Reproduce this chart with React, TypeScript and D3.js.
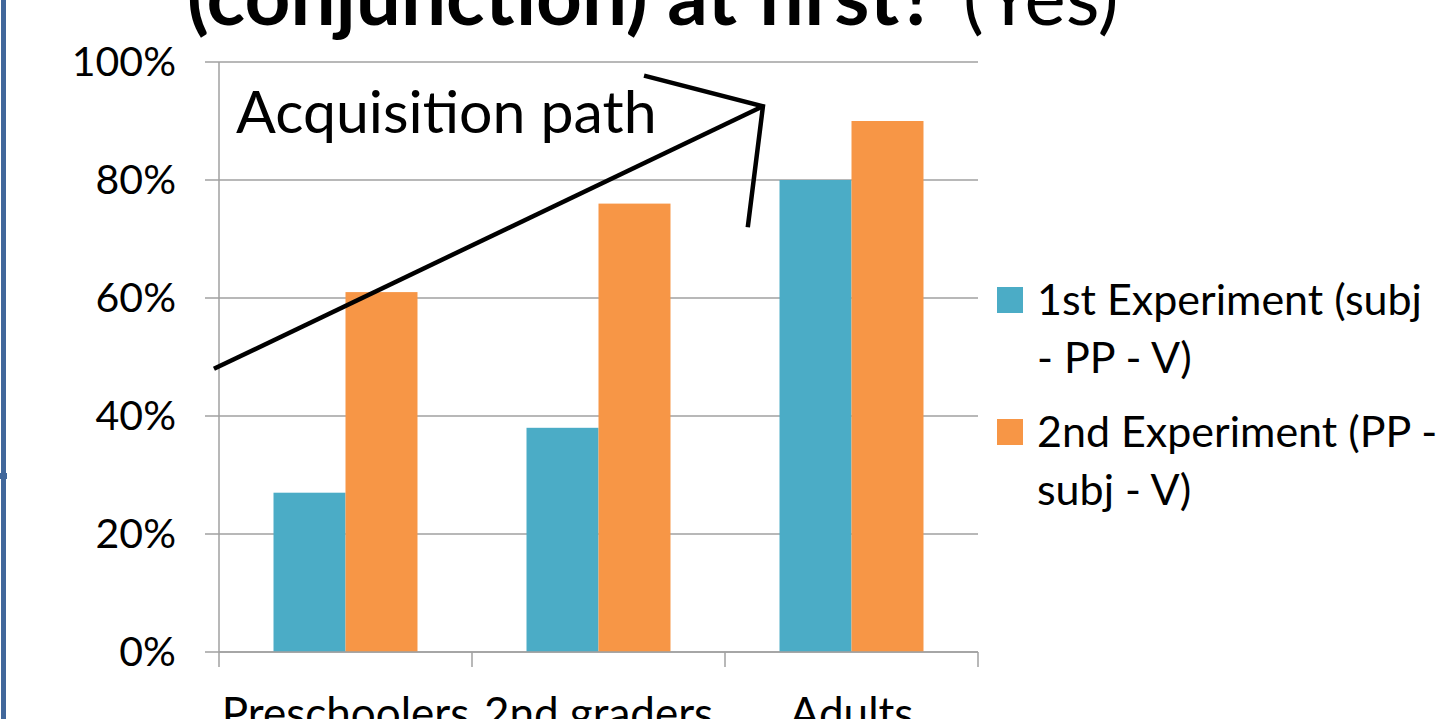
import React, { useEffect } from "react";
import * as d3 from "d3";

const categories = ["Preschoolers", "2nd graders", "Adults"];
const seriesNames = ["1st Experiment (subj - PP - V)", "2nd Experiment (PP - subj - V)"];
const firstExperiment = [0.27, 0.38, 0.8];
const secondExperiment = [0.61, 0.76, 0.9];
const yTicks = [0, 0.2, 0.4, 0.6, 0.8, 1];
const legendLines = [
  ["1st Experiment (subj", "- PP - V)"],
  ["2nd Experiment (PP -", "subj - V)"],
];
const colors = ["#4BACC6", "#F79646"];

// acquisition arrow, in chart units: [category position 0..3, value]
const arrowPath: [number, number][] = [
  [-0.02, 0.48],
  [2.15, 0.925],
];
const arrowHead: [number, number][] = [
  [1.68, 0.977],
  [2.15, 0.925],
  [2.09, 0.72],
];

const W = 1440;
const H = 719;
const left = 219;
const right = 978;
const top = 62;
const bottom = 652;
const font = "Lato, 'Open Sans', sans-serif";

export default function App() {
  useEffect(() => {
    document.body.style.margin = "0";
    document.body.style.overflow = "hidden";
  }, []);

  const x = d3.scaleBand().domain(categories).range([left, right]);
  const xs = d3
    .scaleBand()
    .domain(seriesNames)
    .range([0, x.bandwidth()])
    .paddingInner(0)
    .paddingOuter(0.757);
  const y = d3.scaleLinear().domain([0, 1]).range([bottom, top]);
  const xPos = d3.scaleLinear().domain([0, 3]).range([left, right]);
  const fmt = d3.format(".0%");

  const values = [firstExperiment, secondExperiment];
  const line = d3
    .line<[number, number]>()
    .x((d) => xPos(d[0]))
    .y((d) => y(d[1]));

  return (
    <svg width={W} height={H} style={{ position: "absolute", left: 0, top: 0, background: "#fff" }}>
      <rect x={1} y={0} width={5} height={H} fill="#41679B" />
      <rect x={0} y={473} width={7} height={6} fill="#41679B" />

      <text x={187} y={25} fontFamily={font} fontWeight="bold" fontSize={80} fill="#000">
        (conjunction) at first?
      </text>
      <text x={963} y={25} fontFamily={font} fontSize={78} fill="#000">
        (Yes)
      </text>

      {/* grid + y ticks */}
      {yTicks.map((t) => (
        <g key={t}>
          <line x1={205} x2={right} y1={y(t)} y2={y(t)} stroke="#A0A0A0" strokeWidth={1.5} />
          <text
            x={176}
            y={y(t)}
            dy="0.35em"
            textAnchor="end"
            fontFamily={font}
            fontSize={41}
            fill="#000"
          >
            {fmt(t)}
          </text>
        </g>
      ))}
      <line x1={left} x2={left} y1={top} y2={bottom} stroke="#A0A0A0" strokeWidth={1.5} />

      {/* bars */}
      {categories.map((c, i) => (
        <g key={c} transform={`translate(${x(c)},0)`}>
          {seriesNames.map((s, j) => (
            <rect
              key={s}
              x={xs(s)}
              y={y(values[j][i])}
              width={xs.bandwidth()}
              height={bottom - y(values[j][i])}
              fill={colors[j]}
            />
          ))}
        </g>
      ))}

      {/* x axis */}
      <line x1={left} x2={right} y1={bottom} y2={bottom} stroke="#A0A0A0" strokeWidth={1.5} />
      {[...categories.map((c) => x(c) as number), right].map((px) => (
        <line key={px} x1={px} x2={px} y1={bottom} y2={667} stroke="#A0A0A0" strokeWidth={1.5} />
      ))}
      {categories.map((c) => (
        <text
          key={c}
          x={(x(c) as number) + x.bandwidth() / 2}
          y={729}
          textAnchor="middle"
          fontFamily={font}
          fontSize={44}
          fill="#000"
        >
          {c}
        </text>
      ))}

      {/* annotation */}
      <text x={236} y={133} fontFamily={font} fontSize={59} fill="#000">
        Acquisition path
      </text>
      <path d={line(arrowPath) || ""} fill="none" stroke="#000" strokeWidth={4.5} />
      <path d={line(arrowHead) || ""} fill="none" stroke="#000" strokeWidth={4.5} strokeLinejoin="miter" />

      {/* legend */}
      {legendLines.map((lines, i) => (
        <g key={i} transform={`translate(997,${287 + i * 132})`}>
          <rect width={26} height={26} fill={colors[i]} />
          {lines.map((l, k) => (
            <text key={k} x={40} y={28 + k * 58} fontFamily={font} fontSize={43} fill="#000">
              {l}
            </text>
          ))}
        </g>
      ))}
    </svg>
  );
}
